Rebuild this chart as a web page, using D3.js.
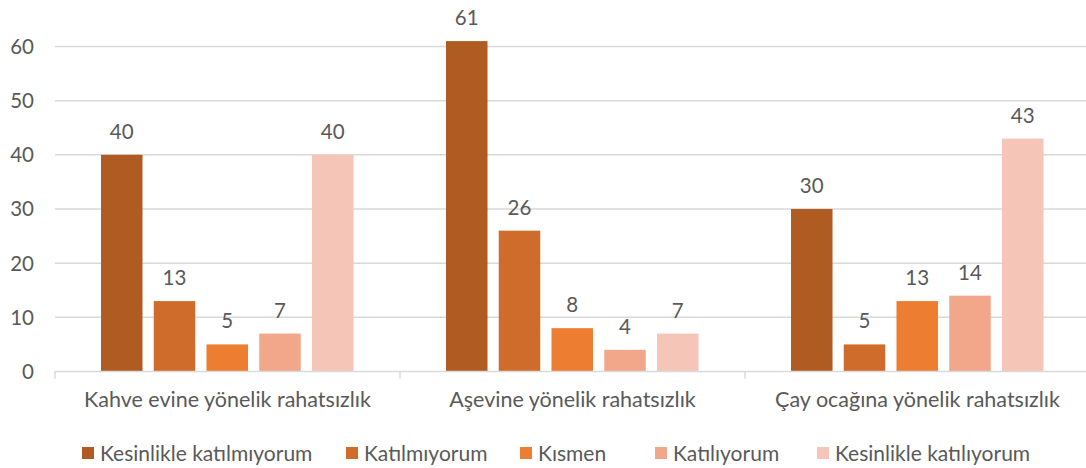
<!DOCTYPE html>
<html>
<head>
<meta charset="utf-8">
<script src="https://cdn.jsdelivr.net/npm/d3@7"></script>
<style>
    body { margin: 0; background: #fff; }
    text { font-family: Lato, "Open Sans", sans-serif; fill: #595959; }
</style>
</head>
<body>
<div id="chart"></div>
<script>
// Chart data
const categories = ["Kahve evine yönelik rahatsızlık", "Aşevine yönelik rahatsızlık", "Çay ocağına yönelik rahatsızlık"];
const seriesNames = ["Kesinlikle katılmıyorum", "Katılmıyorum", "Kısmen", "Katılıyorum", "Kesinlikle katılıyorum"];
const seriesValues = [
    [40, 61, 30],
    [13, 26, 5],
    [5, 8, 13],
    [7, 4, 14],
    [40, 7, 43]
];
const yTicks = [0, 10, 20, 30, 40, 50, 60];
const colors = ["#B05B22", "#D06C2B", "#ED7D31", "#F2A78A", "#F5C6B7"];

const width = 1086;
const height = 468;
const margin = { top: 46.5, right: -4, bottom: 96.5, left: 55 };
const innerW = width - margin.left - margin.right;
const innerH = height - margin.top - margin.bottom;

const svg = d3.select("#chart")
    .append("svg")
    .attr("width", width)
    .attr("height", height);

const g = svg.append("g")
    .attr("transform", `translate(${margin.left}, ${margin.top})`);

const x0 = d3.scaleBand()
    .domain(categories)
    .range([0, innerW]);

const x1 = d3.scaleBand()
    .domain(seriesNames)
    .range([46, 298.5])
    .paddingInner(0.213)
    .paddingOuter(0);

const y = d3.scaleLinear()
    .domain([0, 60])
    .range([innerH, 0]);

// Gridlines
g.selectAll(".grid")
    .data(yTicks.filter(d => d > 0))
    .enter()
    .append("line")
    .attr("x1", 0)
    .attr("x2", innerW)
    .attr("y1", d => y(d))
    .attr("y2", d => y(d))
    .attr("stroke", "#d9d9d9")
    .attr("stroke-width", 1.5);

// Y tick labels
g.selectAll(".ytick")
    .data(yTicks)
    .enter()
    .append("text")
    .attr("x", -21)
    .attr("y", d => y(d))
    .attr("dy", "0.36em")
    .attr("text-anchor", "end")
    .style("font-size", "20.5px")
    .text(d => d);

// Bars
const rows = [];
categories.forEach((c, ci) => {
    seriesNames.forEach((s, si) => {
        rows.push({ cat: c, series: s, value: seriesValues[si][ci], color: colors[si] });
    });
});

g.selectAll(".bar")
    .data(rows)
    .enter()
    .append("rect")
    .attr("x", d => x0(d.cat) + x1(d.series))
    .attr("y", d => y(d.value))
    .attr("width", x1.bandwidth())
    .attr("height", d => y(0) - y(d.value))
    .attr("fill", d => d.color);

// Value labels
g.selectAll(".val")
    .data(rows)
    .enter()
    .append("text")
    .attr("x", d => x0(d.cat) + x1(d.series) + x1.bandwidth() / 2)
    .attr("y", d => y(d.value) - 16)
    .attr("text-anchor", "middle")
    .style("font-size", "20.5px")
    .text(d => d.value);

// X axis line and ticks
g.append("line")
    .attr("x1", 0)
    .attr("x2", innerW)
    .attr("y1", innerH)
    .attr("y2", innerH)
    .attr("stroke", "#d9d9d9")
    .attr("stroke-width", 1.5);

g.selectAll(".xtick")
    .data(d3.range(categories.length + 1))
    .enter()
    .append("line")
    .attr("x1", d => d * x0.step())
    .attr("x2", d => d * x0.step())
    .attr("y1", innerH)
    .attr("y2", innerH + 7)
    .attr("stroke", "#d9d9d9")
    .attr("stroke-width", 1.5);

// Category labels
g.selectAll(".cat")
    .data(categories)
    .enter()
    .append("text")
    .attr("x", d => x0(d) + x0.bandwidth() / 2)
    .attr("y", innerH + 35)
    .attr("text-anchor", "middle")
    .style("font-size", "21.5px")
    .text(d => d);

// Legend
const legendX = [82, 346, 520, 655, 817];
const legend = svg.append("g")
    .attr("transform", `translate(0, 453)`);

const items = legend.selectAll(".item")
    .data(seriesNames)
    .enter()
    .append("g")
    .attr("transform", (d, i) => `translate(${legendX[i]}, 0)`);

items.append("rect")
    .attr("x", 0)
    .attr("y", -6)
    .attr("width", 12)
    .attr("height", 12)
    .attr("fill", (d, i) => colors[i]);

items.append("text")
    .attr("x", 18)
    .attr("y", 0)
    .attr("dy", "0.36em")
    .style("font-size", "21px")
    .text(d => d);
</script>
</body>
</html>
